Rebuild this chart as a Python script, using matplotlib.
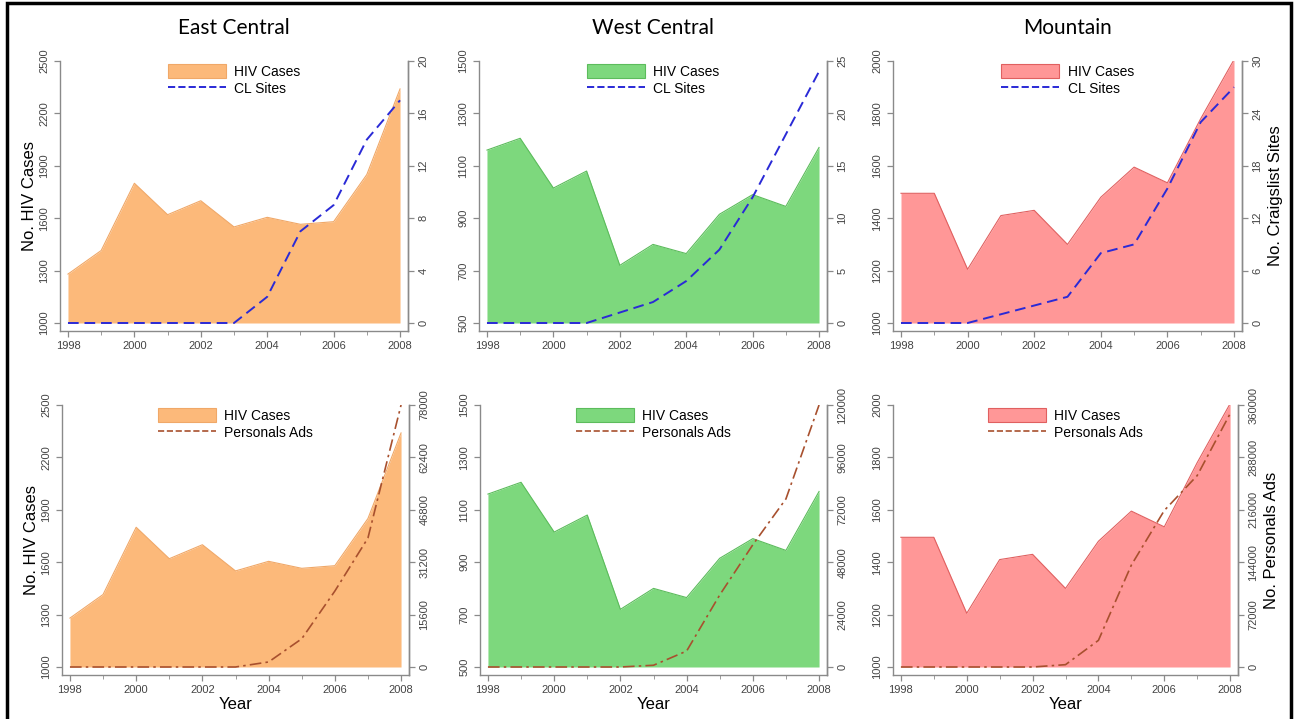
import numpy as np
import matplotlib
matplotlib.use("Agg")
import matplotlib.pyplot as plt
from matplotlib.patches import Patch, Rectangle
from matplotlib.lines import Line2D

# Data
years = [1998, 1999, 2000, 2001, 2002, 2003, 2004, 2005, 2006, 2007, 2008]
regions = ["East Central", "West Central", "Mountain"]

hiv_east = [1280, 1415, 1800, 1620, 1700, 1550, 1605, 1565, 1580, 1850, 2340]
hiv_west = [1160, 1205, 1015, 1080, 720, 800, 765, 915, 990, 945, 1170]
hiv_mountain = [1495, 1495, 1205, 1410, 1430, 1300, 1480, 1595, 1535, 1780, 2005]

cl_east = [0, 0, 0, 0, 0, 0, 2, 7, 9, 14, 17]
cl_west = [0, 0, 0, 0, 1, 2, 4, 7, 12, 18, 24]
cl_mountain = [0, 0, 0, 1, 2, 3, 8, 9, 15.4, 23, 27]

ads_east = [0, 0, 0, 0, 0, 0, 1500, 8400, 22600, 38400, 78000]
ads_west = [0, 0, 0, 0, 0, 800, 7300, 33000, 56000, 77000, 120000]
ads_mountain = [0, 0, 0, 0, 0, 3200, 36600, 140000, 215000, 263000, 348000]

hiv = [hiv_east, hiv_west, hiv_mountain]
cl = [cl_east, cl_west, cl_mountain]
ads = [ads_east, ads_west, ads_mountain]

hiv_ticks = [np.arange(1000, 2501, 300), np.arange(500, 1501, 200), np.arange(1000, 2001, 200)]
cl_ticks = [np.arange(0, 21, 4), np.arange(0, 26, 5), np.arange(0, 31, 6)]
ads_ticks = [np.arange(0, 78001, 15600), np.arange(0, 120001, 24000), np.arange(0, 360001, 72000)]

fill_colors = ["#fcb97a", "#7dd87d", "#ff9797"]
edge_colors = ["#f0a868", "#5cbc5c", "#e06060"]
cl_color = "#2a2ad6"
ads_color = "#a8502e"
spine_gray = "#8a8a8a"
tick_txt = "#444444"

W, H = 1297, 719
fig = plt.figure(figsize=(W / 100, H / 100), dpi=100)
plt.rcParams["font.family"] = ["Liberation Sans", "DejaVu Sans"]

cols_top = [(60, 408), (479, 827), (893, 1242)]
cols_bot = [(62, 409), (480, 827), (893, 1238)]
rows = [(61, 331), (405, 675)]
pad = 8 / 270  # Stata-like offset of the plot region


def make_axes(l, r, t, b):
    return fig.add_axes([l / W, 1 - b / H, (r - l) / W, (b - t) / H])


def style(ax):
    ax.spines["top"].set_visible(False)
    for s in ["left", "right", "bottom"]:
        ax.spines[s].set_color(spine_gray)
        ax.spines[s].set_linewidth(1.0)
    ax.tick_params(colors=spine_gray, labelcolor=tick_txt, labelsize=8,
                   direction="out", length=4, width=0.9)
    ax.tick_params(axis="y", labelrotation=90)
    for lab in ax.get_yticklabels():
        lab.set_va("center")


for row in range(2):
    top, bot = rows[row]
    cols = cols_top if row == 0 else cols_bot
    for i in range(3):
        l, r = cols[i]
        ax = make_axes(l, r, top, bot)
        ax.patch.set_alpha(0)
        lo, hi = hiv_ticks[i][0], hiv_ticks[i][-1]
        ax.fill_between(years, lo, hiv[i], color=fill_colors[i], lw=0)
        ax.plot(years, hiv[i], color=edge_colors[i], lw=0.8)
        ax.set_xlim(1997.76, 2008.24)
        ax.set_ylim(lo - (hi - lo) * pad / (1 - pad), hi)
        ax.set_yticks(hiv_ticks[i])
        ax.set_xticks(range(1998, 2009, 2))
        ax.set_xticks(range(1999, 2008, 2), minor=True)
        ax.tick_params(axis="x", which="minor", length=3, color=spine_gray)
        style(ax)

        ax2 = ax.twinx()
        if row == 0:
            rt = cl_ticks[i]
            line, = ax2.plot(years, cl[i], color=cl_color, lw=1.4,
                             linestyle=(0, (5.5, 3)))
            lab = "CL Sites"
        else:
            rt = ads_ticks[i]
            line, = ax2.plot(years, ads[i], color=ads_color, lw=1.2,
                             linestyle=(0, (7, 2.5, 1.5, 2.5)))
            lab = "Personals Ads"
        rhi = rt[-1]
        ax2.set_ylim(-rhi * pad / (1 - pad), rhi)
        ax2.set_yticks(rt)
        ax2.set_yticklabels([str(v) for v in rt])
        style(ax2)
        ax2.spines["left"].set_visible(False)
        ax2.spines["bottom"].set_visible(False)

        handles = [Patch(facecolor=fill_colors[i], edgecolor=edge_colors[i], lw=0.8),
                   Line2D([], [], color=line.get_color(), lw=line.get_linewidth(),
                          linestyle=line.get_linestyle())]
        ax2.legend(handles, ["HIV Cases", lab], loc="upper center",
                   bbox_to_anchor=(0.5, 1.02), frameon=False, fontsize=10,
                   handlelength=4.2, handleheight=1.2, labelspacing=0.2,
                   handletextpad=0.6, borderaxespad=0.2)

        if i == 0:
            ax.set_ylabel("No. HIV Cases", fontsize=12, labelpad=2)
        if i == 2:
            ax2.set_ylabel("No. Craigslist Sites" if row == 0 else "No. Personals Ads",
                           fontsize=12, labelpad=4)
        if row == 1:
            ax.set_xlabel("Year", fontsize=12, labelpad=1)
        else:
            fig.text((l + r) / 2 / W, 1 - 28 / H, regions[i], ha="center", va="center",
                     fontsize=15, family=["Lato", "DejaVu Sans"])

# outer frame of the original picture
fig.add_artist(Rectangle((7 / W, -0.05), (1291 - 7) / W, 1 - 3 / H + 0.05,
                         transform=fig.transFigure, fill=False, lw=2.5,
                         edgecolor="black"))

fig.savefig("out.png", dpi=100)
